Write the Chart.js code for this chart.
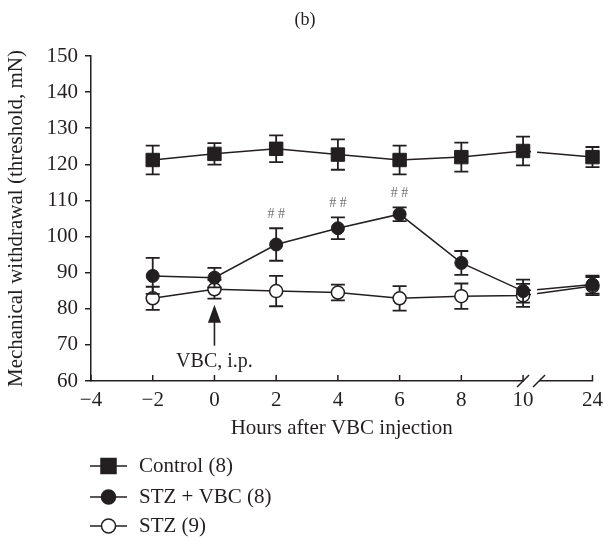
<!DOCTYPE html>
<html>
<head>
<meta charset="utf-8">
<script src="https://cdn.jsdelivr.net/npm/chart.js@4.4.1/dist/chart.umd.min.js"></script>
<style>
  html, body { margin: 0; padding: 0; background: #fff; }
  #wrap { width: 610px; height: 537px; }
</style>
</head>
<body>
<div id="wrap"><canvas id="chartMw" width="610" height="537"></canvas></div>
<script>
// données (b)
const hours = [-2, 0, 2, 4, 6, 8, 10, 24];
const control = [121.2, 122.9, 124.3, 122.7, 121.2, 122.0, 123.7, 122.0];
const controlErr = [4.0, 3.0, 3.7, 4.2, 4.0, 4.0, 4.0, 2.8];
const stzVbc = [89.1, 88.6, 97.8, 102.3, 106.2, 92.7, 84.9, 86.7];
const stzVbcErr = [5.0, 2.7, 4.5, 3.0, 1.9, 3.3, 3.2, 2.5];
const stz = [82.9, 85.4, 84.9, 84.5, 82.9, 83.5, 83.7, 86.3];
const stzErr = [3.2, 2.6, 4.2, 2.2, 3.4, 3.5, 3.2, 2.5];
const signifHours = [2, 4, 6];

const xTickHours = [-4, -2, 0, 2, 4, 6, 8, 10, 24];
const yTicks = [60, 70, 80, 90, 100, 110, 120, 130, 140, 150];

// axe coupé: tout ce qui dépasse 10 h est placé juste après la coupure
const breakAt = 10;
const afterBreak = 12.25;
function brokenX(h) {
    return h > breakAt ? afterBreak : h;
}

const ink = '#231f20';
const serif = "'Liberation Serif', 'DejaVu Serif', serif";
const fontSize = 21;

function pts(values) {
    return hours.map((h, i) => ({ x: brokenX(h), y: values[i] }));
}

const errors = [controlErr, stzVbcErr, stzErr];

// barres d'erreur + coupure des lignes entre 10 et 24
const errorBars = {
    id: 'errorBars',
    beforeDatasetDraw(chart, args) {
        const ctx = chart.ctx;
        const xs = chart.scales.x, ys = chart.scales.y;
        const xb = xs.getPixelForValue(breakAt);
        ctx.save();
        ctx.beginPath();
        ctx.rect(0, 0, xb + 8, chart.height);
        ctx.rect(xb + 14, 0, chart.width, chart.height);
        ctx.clip();
        const ds = chart.data.datasets[args.index];
        const err = errors[args.index];
        ctx.strokeStyle = ink;
        ctx.lineWidth = 1.8;
        ds.data.forEach((p, i) => {
            const x = xs.getPixelForValue(p.x);
            const yt = ys.getPixelForValue(p.y + err[i]);
            const yb = ys.getPixelForValue(p.y - err[i]);
            ctx.beginPath();
            ctx.moveTo(x, yt); ctx.lineTo(x, yb);
            ctx.moveTo(x - 7, yt); ctx.lineTo(x + 7, yt);
            ctx.moveTo(x - 7, yb); ctx.lineTo(x + 7, yb);
            ctx.stroke();
        });
    },
    afterDatasetDraw(chart) {
        chart.ctx.restore();
    }
};

const decorations = {
    id: 'decorations',
    afterDraw(chart) {
        const ctx = chart.ctx;
        const xs = chart.scales.x, ys = chart.scales.y;
        const bottom = chart.chartArea.bottom;
        ctx.save();
        // ticks de l'axe x vers l'intérieur
        ctx.strokeStyle = ink;
        ctx.lineWidth = 1.5;
        xs.ticks.forEach(t => {
            const x = xs.getPixelForValue(t.value);
            ctx.beginPath();
            ctx.moveTo(x, bottom);
            ctx.lineTo(x, bottom - 6);
            ctx.stroke();
        });
        // coupure de l'axe
        const xb = xs.getPixelForValue(breakAt);
        ctx.fillStyle = '#fff';
        ctx.fillRect(xb + 1, bottom - 2, 15, 4);
        ctx.beginPath();
        [xb, xb + 16].forEach(x => {
            ctx.moveTo(x - 6, bottom + 6);
            ctx.lineTo(x + 6, bottom - 6);
        });
        ctx.stroke();

        // ## au-dessus des points significatifs
        ctx.fillStyle = '#707070';
        ctx.font = '14px ' + serif;
        ctx.textAlign = 'center';
        ctx.textBaseline = 'alphabetic';
        signifHours.forEach(h => {
            const i = hours.indexOf(h);
            const x = xs.getPixelForValue(brokenX(h));
            const y = ys.getPixelForValue(stzVbc[i] + stzVbcErr[i]);
            ctx.fillText('# #', x, y - 10);
        });

        // flèche VBC, i.p.
        const xa = xs.getPixelForValue(0);
        const yTip = ys.getPixelForValue(stz[1] - stzErr[1]) + 6;
        ctx.strokeStyle = ink;
        ctx.fillStyle = ink;
        ctx.lineWidth = 1.6;
        ctx.beginPath();
        ctx.moveTo(xa, yTip + 16);
        ctx.lineTo(xa, yTip + 41);
        ctx.stroke();
        ctx.beginPath();
        ctx.moveTo(xa, yTip);
        ctx.lineTo(xa - 6.5, yTip + 18);
        ctx.lineTo(xa + 6.5, yTip + 18);
        ctx.closePath();
        ctx.fill();
        ctx.font = '20px ' + serif;
        ctx.fillText('VBC, i.p.', xa, yTip + 62);

        // titre
        ctx.fillStyle = ink;
        ctx.font = '18px ' + serif;
        ctx.textBaseline = 'middle';
        ctx.fillText('(b)', 305, 20);

        // légende
        const legend = [
            { label: 'Control (8)', style: 'rect', fill: ink },
            { label: 'STZ + VBC (8)', style: 'circle', fill: ink },
            { label: 'STZ (9)', style: 'circle', fill: '#fff' }
        ];
        const rows = [466, 497, 526];
        legend.forEach((item, i) => {
            const y = rows[i];
            ctx.strokeStyle = ink;
            ctx.lineWidth = 1.5;
            ctx.beginPath();
            ctx.moveTo(90, y);
            ctx.lineTo(127, y);
            ctx.stroke();
            ctx.fillStyle = item.fill;
            ctx.beginPath();
            if (item.style === 'rect') {
                ctx.rect(108.5 - 7.5, y - 7.5, 15, 15);
            } else {
                ctx.arc(108.5, y, 7, 0, Math.PI * 2);
            }
            ctx.fill();
            ctx.stroke();
            ctx.fillStyle = ink;
            ctx.font = fontSize + 'px ' + serif;
            ctx.textAlign = 'left';
            ctx.textBaseline = 'middle';
            ctx.fillText(item.label, 139, y);
        });
        ctx.restore();
    }
};

const ctxMw = document.getElementById('chartMw').getContext('2d');
const chartMw = new Chart(ctxMw, {
    type: 'line',
    data: {
        datasets: [{
            label: 'Control (8)',
            data: pts(control),
            borderColor: ink,
            backgroundColor: ink,
            borderWidth: 1.5,
            pointStyle: 'rect',
            pointRadius: 9.5,
            pointBorderWidth: 1,
            clip: false,
        }, {
            label: 'STZ + VBC (8)',
            data: pts(stzVbc),
            borderColor: ink,
            backgroundColor: ink,
            borderWidth: 1.5,
            pointStyle: 'circle',
            pointRadius: 6.5,
            pointBorderWidth: 1,
            clip: false,
        }, {
            label: 'STZ (9)',
            data: pts(stz),
            borderColor: ink,
            backgroundColor: '#fff',
            pointBackgroundColor: '#fff',
            borderWidth: 1.5,
            pointStyle: 'circle',
            pointRadius: 6.5,
            pointBorderWidth: 1.5,
            clip: false,
        }]
    },
    options: {
        responsive: false,
        animation: false,
        layout: { padding: { top: 56, right: 12, bottom: 89, left: 0 } },
        plugins: {
            legend: { display: false },
            tooltip: { enabled: false }
        },
        scales: {
            x: {
                type: 'linear',
                min: -4,
                max: afterBreak,
                afterBuildTicks(scale) {
                    scale.ticks = xTickHours.map(h => ({ value: brokenX(h) }));
                },
                afterFit(scale) { scale.height = 67; },
                grid: { display: false, drawTicks: false },
                border: { display: true, color: ink, width: 1.5 },
                ticks: {
                    color: ink,
                    padding: 7,
                    maxRotation: 0,
                    autoSkip: false,
                    font: { family: serif, size: fontSize },
                    callback: (v, i) => String(xTickHours[i]).replace('-', '\u2212')
                },
                title: {
                    display: true,
                    text: 'Hours after VBC injection',
                    color: ink,
                    padding: { top: 0, bottom: 7 },
                    font: { family: serif, size: fontSize }
                }
            },
            y: {
                min: 60,
                max: 150,
                afterBuildTicks(scale) {
                    scale.ticks = yTicks.map(v => ({ value: v }));
                },
                afterFit(scale) { scale.width = 91; },
                grid: { drawOnChartArea: false, drawTicks: true, tickLength: 6, color: ink, lineWidth: 1.5 },
                border: { display: true, color: ink, width: 1.5 },
                ticks: {
                    color: ink,
                    padding: 7,
                    font: { family: serif, size: fontSize }
                },
                title: {
                    display: true,
                    text: 'Mechanical withdrawal (threshold, mN)',
                    color: ink,
                    padding: { top: 4, bottom: 0 },
                    font: { family: serif, size: fontSize }
                }
            }
        }
    },
    plugins: [errorBars, decorations]
});
</script>
</body>
</html>
